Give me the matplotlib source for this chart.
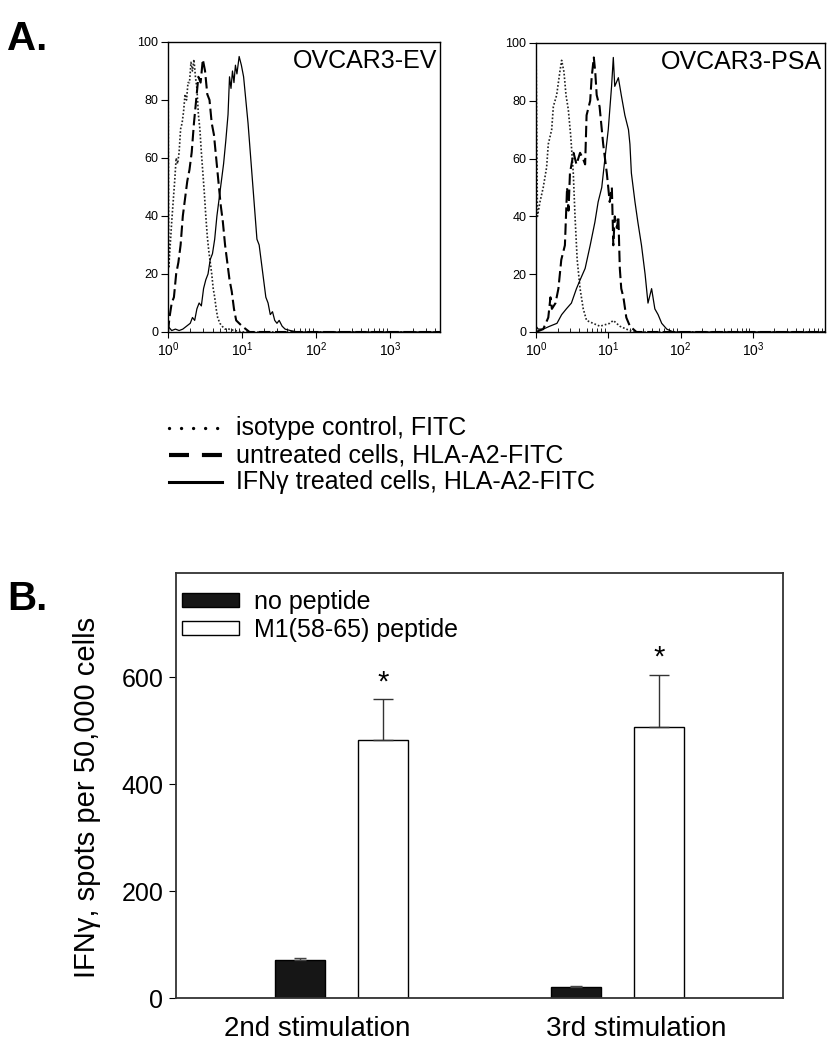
import numpy as np
import matplotlib
matplotlib.use("Agg")
import matplotlib.pyplot as plt
from matplotlib.lines import Line2D

plt.rcParams['font.family'] = ['Liberation Sans', 'DejaVu Sans']

# ---- panel A: flow histograms (x in log10 fluorescence, y in % of max) ----
ev_iso_log = [0.0, 0.0, 0.01, 0.03, 0.05, 0.07, 0.09, 0.11, 0.13, 0.15, 0.17, 0.19, 0.21, 0.23, 0.25, 0.27,
              0.29, 0.31, 0.33, 0.35, 0.37, 0.39, 0.41, 0.43, 0.45, 0.47, 0.49, 0.51, 0.53, 0.55, 0.57,
              0.59, 0.61, 0.63, 0.65, 0.67, 0.70, 0.73, 0.77, 0.82, 0.90, 1.0, 3.7]
ev_iso_pct = [0, 100, 22, 30, 38, 45, 52, 60, 58, 62, 70, 72, 76, 82, 80, 86,
              86, 93, 90, 94, 88, 84, 75, 70, 62, 55, 48, 40, 33, 28, 24,
              20, 15, 12, 8, 5, 3, 2, 1, 1, 0.5, 0, 0]

ev_unt_log = [0.0, 0.02, 0.05, 0.08, 0.11, 0.14, 0.17, 0.20, 0.23, 0.26, 0.29, 0.32, 0.35, 0.38, 0.41,
              0.44, 0.47, 0.50, 0.53, 0.56, 0.59, 0.62, 0.65, 0.68, 0.71, 0.74, 0.77, 0.80, 0.83,
              0.86, 0.89, 0.92, 0.96, 1.0, 1.05, 1.1, 3.7]
ev_unt_pct = [0, 5, 10, 12, 20, 24, 30, 40, 46, 52, 56, 62, 72, 80, 88,
              86, 94, 90, 82, 80, 72, 68, 60, 52, 44, 38, 30, 24, 18,
              14, 8, 4, 3, 2, 1, 0, 0]

ev_ifn_log = [0.0, 0.05, 0.1, 0.15, 0.2, 0.25, 0.3, 0.33, 0.36, 0.39, 0.42, 0.45, 0.48, 0.51, 0.54,
              0.57, 0.60, 0.63, 0.66, 0.69, 0.72, 0.75, 0.78, 0.81, 0.83, 0.85, 0.87, 0.89, 0.91,
              0.93, 0.96, 0.99, 1.02, 1.05, 1.08, 1.11, 1.14, 1.17, 1.20, 1.23, 1.26, 1.29, 1.32,
              1.35, 1.38, 1.41, 1.44, 1.47, 1.50, 1.54, 1.58, 1.65, 1.75, 3.7]
ev_ifn_pct = [2, 0.5, 1, 0.5, 1, 2, 3, 5, 4, 8, 10, 9, 15, 18, 20,
              25, 27, 32, 40, 46, 52, 58, 66, 75, 88, 84, 90, 86, 92,
              89, 95, 92, 88, 80, 72, 62, 52, 42, 32, 30, 24, 18, 12,
              10, 6, 7, 4, 3, 4, 2, 1, 0.5, 0, 0]

psa_iso_log = [0.0, 0.0, 0.02, 0.055, 0.10, 0.147, 0.17, 0.217, 0.24, 0.286, 0.33, 0.355, 0.387, 0.415,
               0.447, 0.48, 0.516, 0.54, 0.57, 0.61, 0.654, 0.70, 0.79, 0.885, 1.02, 1.07, 1.16, 1.25,
               1.35, 4.0]
psa_iso_pct = [0, 100, 40, 45, 50, 57, 65, 70, 78, 82, 90, 94, 90, 82,
               77, 68, 55, 40, 25, 15, 8, 4, 3, 2, 3, 4, 2, 1,
               0, 0]

psa_unt_log = [0.0, 0.10, 0.17, 0.20, 0.22, 0.27, 0.31, 0.35, 0.40, 0.43, 0.45, 0.47, 0.52, 0.56, 0.61,
               0.65, 0.68, 0.70, 0.75, 0.77, 0.80, 0.82, 0.84, 0.88, 0.93, 0.98, 1.02, 1.05, 1.07,
               1.09, 1.12, 1.14, 1.16, 1.18, 1.21, 1.25, 1.30, 1.39, 4.0]
psa_unt_pct = [0, 1, 5, 12, 8, 10, 15, 25, 30, 50, 42, 55, 62, 58, 62,
               60, 58, 75, 80, 88, 95, 90, 82, 78, 65, 55, 45, 50, 30,
               40, 36, 40, 22, 15, 12, 5, 2, 0, 0]

psa_ifn_log = [0.0, 0.03, 0.10, 0.19, 0.29, 0.355, 0.42, 0.49, 0.56, 0.61, 0.68, 0.75, 0.815, 0.86,
               0.91, 0.954, 1.0, 1.046, 1.07, 1.09, 1.14, 1.18, 1.23, 1.28, 1.30, 1.32, 1.37, 1.41,
               1.46, 1.51, 1.55, 1.60, 1.645, 1.69, 1.74, 1.81, 1.90, 4.0]
psa_ifn_pct = [2, 1, 1, 2, 3, 6, 8, 10, 15, 18, 22, 30, 38, 45,
               50, 60, 70, 85, 95, 85, 88, 82, 75, 70, 65, 55, 45, 38,
               30, 20, 10, 15, 8, 6, 3, 1, 0, 0]

# ---- panel B: ELISPOT ----
stim_labels = ['2nd stimulation', '3rd stimulation']
no_peptide = [72, 20]
no_peptide_err = [2, 2]
m1_peptide = [483, 506]
m1_peptide_err = [76, 98]


def histPanel(ax, iso, unt, ifn, xmax, name):
    ax.plot(10 ** np.array(iso[0]), iso[1], color='#222222', lw=1.2, ls=(0, (1, 1.2)))
    ax.plot(10 ** np.array(unt[0]), unt[1], color='black', lw=1.5, ls=(0, (5.5, 2.2)))
    ax.plot(10 ** np.array(ifn[0]), ifn[1], color='black', lw=0.9)
    ax.set_xscale('log')
    ax.set_xlim(1, 10 ** xmax)
    ax.set_ylim(0, 100)
    ax.set_yticks([0, 20, 40, 60, 80, 100])
    ax.set_xticks([1, 10, 100, 1000])
    ax.xaxis.set_minor_locator(matplotlib.ticker.LogLocator(base=10, subs=np.arange(2, 10), numticks=20))
    ax.xaxis.set_minor_formatter(matplotlib.ticker.NullFormatter())
    ax.tick_params(axis='x', which='major', direction='out', length=4, labelsize=10, pad=2)
    ax.tick_params(axis='x', which='minor', direction='in', length=3)
    ax.tick_params(axis='y', direction='out', length=5, labelsize=9, pad=2)
    for s in ax.spines.values():
        s.set_linewidth(1.0)
    ax.text(0.99, 0.975, name, transform=ax.transAxes, ha='right', va='top', fontsize=18)


fig = plt.figure(figsize=(8.34, 10.5), dpi=100)

ax1 = fig.add_axes([168 / 834, 1 - 332 / 1050, 272 / 834, 290 / 1050])
histPanel(ax1, (ev_iso_log, ev_iso_pct), (ev_unt_log, ev_unt_pct), (ev_ifn_log, ev_ifn_pct), 3.67, 'OVCAR3-EV')

ax2 = fig.add_axes([536 / 834, 1 - 332 / 1050, 289 / 834, 289 / 1050])
histPanel(ax2, (psa_iso_log, psa_iso_pct), (psa_unt_log, psa_unt_pct), (psa_ifn_log, psa_ifn_pct), 4.0, 'OVCAR3-PSA')

# legend for panel A, drawn by hand below the histograms
legendRows = [
    ('isotype control, FITC', dict(lw=2.4, ls=(0, (0.01, 3.6)), dash_capstyle='round')),
    ('untreated cells, HLA-A2-FITC', dict(lw=3, ls=(0, (4.8, 3.1)))),
    ('IFN\u03b3 treated cells, HLA-A2-FITC', dict(lw=2.2, ls='-')),
]
for i, (label, style) in enumerate(legendRows):
    y = 1 - (428 + 27 * i) / 1050
    fig.add_artist(Line2D([169 / 834, 222 / 834], [y, y], transform=fig.transFigure, color='black', **style))
    fig.text(236 / 834, y, label, fontsize=18, va='center', ha='left')

fig.text(7 / 834, 1 - 50 / 1050, 'A.', fontsize=29, fontweight='bold', va='baseline')
fig.text(7 / 834, 1 - 610 / 1050, 'B.', fontsize=29, fontweight='bold', va='baseline')

# panel B bars
axb = fig.add_axes([176 / 834, 1 - 998 / 1050, 607 / 834, 425 / 1050])
x = np.arange(len(stim_labels))
w = 0.181
axb.bar(x - 0.15, no_peptide, w, color='#161616', edgecolor='black', lw=1, label='no peptide')
axb.bar(x + 0.15, m1_peptide, w, color='white', edgecolor='black', lw=1, label='M1(58-65) peptide')
axb.errorbar(x - 0.15, no_peptide, yerr=[np.zeros(2), no_peptide_err], fmt='none', ecolor='#444444', elinewidth=1, capsize=4, capthick=1)
axb.errorbar(x + 0.15, m1_peptide, yerr=[np.zeros(2), m1_peptide_err], fmt='none', ecolor='#333333', elinewidth=1, capsize=7, capthick=1)
for xi, v, e in zip(x, m1_peptide, m1_peptide_err):
    axb.text(xi + 0.15, v + e + 17, '*', ha='center', va='baseline', fontsize=21)

axb.set_xlim(-0.6, 1.6)
axb.set_ylim(0, 795)
axb.set_yticks([0, 200, 400, 600])
axb.set_xticks([-0.089, 1.069])
axb.set_xticklabels(stim_labels)
axb.tick_params(axis='x', length=0, labelsize=20, pad=13)
axb.tick_params(axis='y', direction='out', length=5, labelsize=18, pad=4)
axb.set_ylabel('IFN\u03b3, spots per 50,000 cells', fontsize=21)
axb.yaxis.set_label_coords(-0.124, 0.473)
for s in axb.spines.values():
    s.set_linewidth(1.3)
    s.set_color('#333333')

axb.legend(loc='upper left', bbox_to_anchor=(0.0, 0.975), frameon=False, fontsize=18,
           handlelength=2.25, handleheight=0.5, handletextpad=0.6, labelspacing=0.15,
           borderpad=0.25, borderaxespad=0)

fig.savefig('out.png', dpi=100)
